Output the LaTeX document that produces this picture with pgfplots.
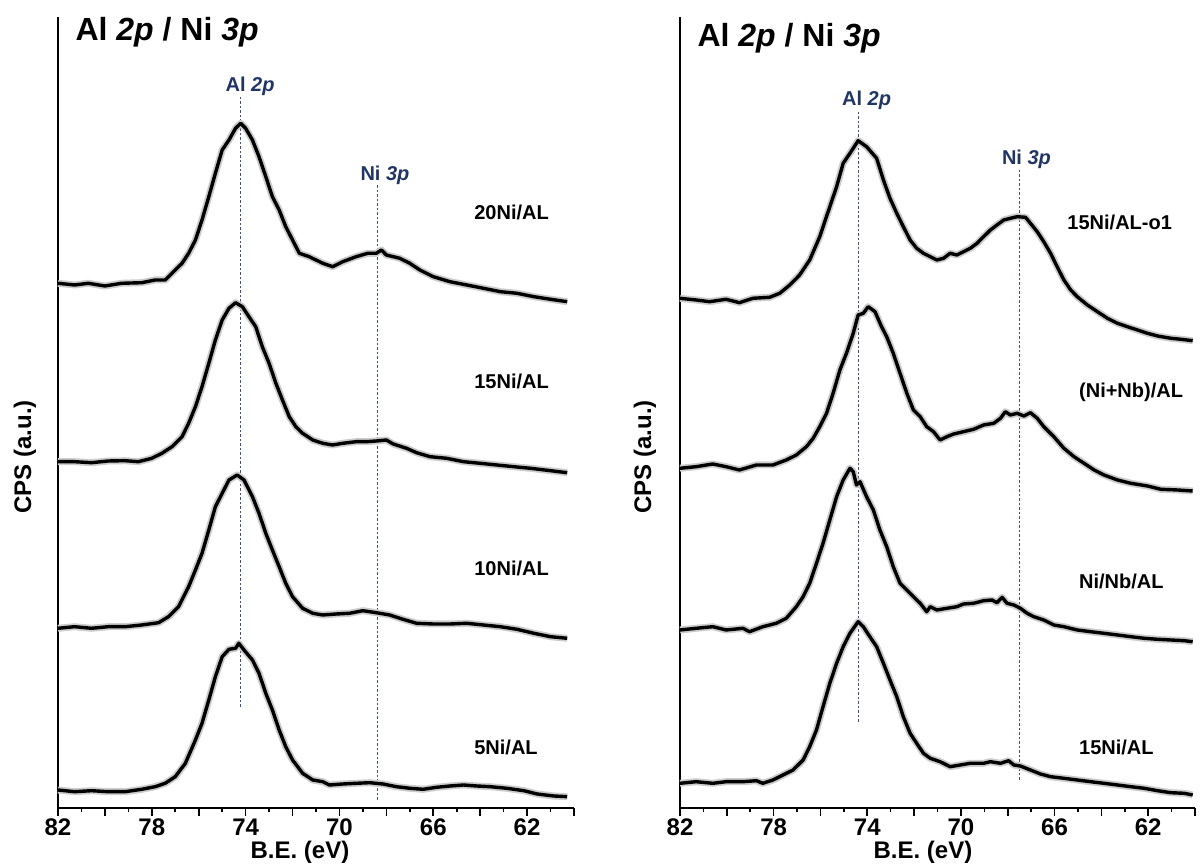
\documentclass[border=0pt]{standalone}
\usepackage{pgfplots}
\pgfplotsset{compat=1.18}
\usepackage{fontspec}
\setmainfont{Liberation Sans}
\definecolor{navy}{RGB}{32,52,102}
\definecolor{dashblue}{RGB}{60,80,140}
\tikzset{lab/.style={anchor=west, font=\fontsize{20}{24}\selectfont\bfseries}}
\pgfplotsset{
  xpspanel/.style={
    scale only axis,
    height=791pt,
    xmin=60, xmax=82, ymin=0, ymax=791,
    x dir=reverse,
    axis x line*=bottom,
    axis y line*=left,
    axis line style={line width=1.8pt, black},
    ytick=\empty,
    xtick={60,62,...,82},
    xticklabels={,\textbf{62},,\textbf{66},,\textbf{70},,\textbf{74},,\textbf{78},,\textbf{82}},
    minor xtick={61,63,...,81},
    tick align=outside,
    major tick length=8pt,
    minor tick length=4.5pt,
    tick style={line width=1.6pt, black},
    xticklabel style={font=\fontsize{24}{26}\selectfont\bfseries, inner sep=2.5pt},
    clip=false,
  },
  spec/.style={black, line width=3.4pt, line join=round, no markers,
    preaction={draw, black!20, line width=7pt, line join=round}},
  guide/.style={dashblue, line width=0.9pt, dash pattern=on 2.5pt off 2pt, no markers},
}
\begin{document}
\begin{tikzpicture}
\useasboundingbox (0,0) rectangle (1201pt,866pt);
% ---------------- left panel ----------------
\begin{axis}[xpspanel, width=516pt, at={(58pt,58pt)}, anchor=south west]
\addplot[guide] coordinates {(74.2,101) (74.2,711)};
\addplot[guide] coordinates {(68.36,8) (68.36,623)};
% 20Ni/AL
\addplot[spec] coordinates {
(82.0,524.7)(81.29,523)(80.71,524.7)(80.0,522)(79.29,524.7)(78.43,525.3)(77.86,528)(77.43,528)
(77.14,534.7)(76.71,544.7)(76.43,554.7)(76.14,568)(75.86,588)(75.57,611.3)(75.29,634.7)(75.0,658)
(74.71,668)(74.43,679.7)(74.21,684.7)(74.0,679.7)(73.71,668)(73.43,651.3)(73.14,631.3)(72.86,611.3)
(72.57,598)(72.29,581.3)(72.0,568)(71.71,554.7)(71.29,551.3)(70.71,544.7)(70.29,541.3)(69.86,546.3)
(69.29,551.3)(68.79,554.7)(68.43,554.7)(68.21,558)(68.0,553)(67.43,549.7)(67.0,544.7)(66.57,538)
(66.0,531.3)(65.29,526.3)(64.57,523)(63.86,519.7)(63.14,516.3)(62.43,514.7)(61.71,511.3)(61.0,508.7)(60.29,506.3)};
% 15Ni/AL
\addplot[spec] coordinates {
(82.0,346.3)(81.29,346.3)(80.57,345.3)(79.86,347)(79.14,347.3)(78.57,346.3)(78.0,349.7)(77.57,354.7)
(77.14,361.3)(76.71,371.3)(76.43,384.7)(76.14,401.3)(75.86,421.3)(75.57,444.7)(75.29,468)(75.0,488)
(74.71,499.7)(74.43,505.3)(74.14,501.3)(73.86,491.3)(73.57,481.3)(73.29,461.3)(73.0,444.7)(72.71,424.7)
(72.43,408)(72.14,391.3)(71.86,381.3)(71.57,374.7)(71.14,368)(70.71,364.7)(70.29,363)(69.86,364.7)
(69.29,366.3)(68.86,366.3)(68.43,367)(68.0,368)(67.71,364)(67.14,359.7)(66.71,355.3)(66.14,351.3)
(65.43,349.7)(64.71,346.3)(64.0,344.7)(63.29,343)(62.57,341.3)(61.86,339.7)(61.0,337.3)(60.29,335.3)};
% 10Ni/AL
\addplot[spec] coordinates {
(82.0,179.7)(81.29,181.3)(80.57,179.7)(79.86,181.3)(79.14,181.3)(78.43,183)(77.71,185.3)(77.29,191.3)
(76.86,201.3)(76.43,221.3)(76.14,238)(75.86,254.7)(75.57,278)(75.29,301.3)(75.0,314.7)(74.71,328)
(74.36,333)(74.07,328)(73.71,311.3)(73.43,294.7)(73.14,274.7)(72.86,258)(72.57,241.3)(72.29,224.7)
(72.0,211.3)(71.57,199.7)(71.14,194.7)(70.71,193)(70.14,194)(69.57,194.7)(69.0,197.3)(68.43,195.3)
(67.86,193)(67.29,188.7)(66.71,184.7)(66.0,184)(65.29,184)(64.57,184.7)(63.86,183)(63.14,181.3)
(62.43,178.7)(61.71,174.7)(61.0,171.3)(60.29,169.7)};
% 5Ni/AL
\addplot[spec] coordinates {
(82.0,18)(81.29,16.3)(80.57,17.3)(79.86,16.3)(79.14,16.3)(78.43,18.7)(77.86,21.3)(77.43,24.7)
(77.0,31.3)(76.57,44.7)(76.14,68)(75.86,84.7)(75.57,108)(75.29,131.3)(75.0,151.3)(74.71,158.7)
(74.43,159.7)(74.29,164.7)(74.07,158)(73.71,148)(73.43,134.7)(73.14,114.7)(72.86,98)(72.57,78)
(72.29,61.3)(72.0,48)(71.57,34.7)(71.14,28)(70.71,26.3)(70.43,23)(69.86,24)(69.29,24.7)
(68.71,25.3)(68.14,24)(67.57,21.3)(67.0,19.7)(66.43,18.7)(65.86,20.7)(65.29,22)(64.71,23)
(64.14,22)(63.57,21.3)(62.86,19.7)(62.14,17.3)(61.57,14)(60.86,12)(60.29,11.3)};
\node[navy, font=\fontsize{20}{24}\selectfont\bfseries] at (axis cs:73.81,722) {Al \textit{2p}};
\node[navy, font=\fontsize{20}{24}\selectfont\bfseries] at (axis cs:68.06,633) {Ni \textit{3p}};
\node[lab] at (axis cs:64.4,596) {20Ni/AL};
\node[lab] at (axis cs:64.4,427) {15Ni/AL};
\node[lab] at (axis cs:64.4,240) {10Ni/AL};
\node[lab] at (axis cs:64.4,61) {5Ni/AL};
\end{axis}
% ---------------- right panel ----------------
\begin{axis}[xpspanel, width=515pt, at={(680pt,58pt)}, anchor=south west]
\addplot[guide] coordinates {(74.37,86) (74.37,697)};
\addplot[guide] coordinates {(67.51,28) (67.51,640)};
% 15Ni/AL-o1
\addplot[spec] coordinates {
(82.0,509.7)(81.31,508)(80.74,506.3)(80.03,508.7)(79.46,505.3)(78.89,509.7)(78.17,510.7)(77.74,514.7)
(77.31,523)(76.89,533)(76.46,548)(76.03,571.3)(75.6,601.3)(75.31,621.3)(75.03,644.7)(74.74,654.7)
(74.39,667.3)(74.03,661.3)(73.6,649.7)(73.31,628)(73.03,609.7)(72.74,594.7)(72.46,581.3)(72.17,568)
(71.89,559.7)(71.6,554.7)(71.31,551.3)(71.03,548)(70.74,549.7)(70.46,554.7)(70.17,553)(69.89,556.3)
(69.6,559.7)(69.31,564.7)(69.03,571.3)(68.74,578)(68.46,583)(68.17,588)(67.89,589.7)(67.6,591.3)
(67.24,590.7)(67.03,584.7)(66.74,576.3)(66.46,566.3)(66.17,554.7)(65.89,541.3)(65.6,528)(65.31,518)
(65.03,511.3)(64.6,503)(64.17,496.3)(63.74,489.7)(63.31,484.7)(62.89,481.3)(62.46,478)(62.03,474.7)
(61.6,472)(61.03,469.7)(60.6,468.7)(60.1,467.3)};
% (Ni+Nb)/AL
\addplot[spec] coordinates {
(82.0,339.7)(81.31,341.3)(80.6,344)(80.03,341.3)(79.46,338)(78.74,343)(78.03,343)(77.46,348)
(77.03,353)(76.6,361.3)(76.31,369.7)(76.03,381.3)(75.74,394.7)(75.46,414.7)(75.17,438)(74.89,454.7)
(74.6,474.7)(74.39,493)(74.17,494.7)(73.96,501.3)(73.67,496.3)(73.39,481.3)(73.17,471.3)(72.89,454.7)
(72.6,434.7)(72.31,414.7)(72.03,398)(71.74,391.3)(71.46,381.3)(71.17,376.3)(70.89,368)(70.6,371.3)
(70.31,374)(69.89,376.3)(69.46,378.7)(69.03,383)(68.6,384.7)(68.31,389.7)(68.1,396.3)(67.89,393)
(67.6,394.7)(67.31,392)(67.03,395.3)(66.74,389.7)(66.46,381.3)(66.03,371.3)(65.6,359.7)(65.17,351.3)
(64.74,344.7)(64.31,338)(63.89,333)(63.31,328)(62.74,324.7)(62.03,322)(61.46,318.7)(60.74,318)(60.1,317)};
% Ni/Nb/AL
\addplot[spec] coordinates {
(82.0,178)(81.31,179.7)(80.6,181.3)(80.03,178)(79.31,179.7)(79.03,176.3)(78.46,181.3)(77.89,184.7)
(77.46,189.7)(77.03,201.3)(76.74,211.3)(76.46,224.7)(76.17,244.7)(75.89,264.7)(75.6,288)(75.31,311.3)
(75.03,328)(74.74,339.7)(74.6,336.3)(74.46,323)(74.31,326.3)(74.03,311.3)(73.74,298)(73.46,278)
(73.17,261.3)(72.89,241.3)(72.6,224.7)(72.31,218)(72.03,211.3)(71.74,204.7)(71.46,196.3)(71.31,201.3)
(71.03,198)(70.6,199.7)(70.17,201.3)(69.89,204)(69.46,204.7)(69.03,207.3)(68.67,208)(68.46,205.3)
(68.24,210.7)(68.03,204.7)(67.74,203)(67.46,199.7)(67.17,194.7)(66.89,191.3)(66.46,188)(66.03,183)
(65.6,181.3)(65.03,178)(64.46,176.3)(63.89,174.7)(63.31,173)(62.74,171.3)(62.17,169.7)(61.6,168.7)
(61.03,168)(60.46,167.3)(60.1,166.3)};
% 15Ni/AL
\addplot[spec] coordinates {
(82.0,24.7)(81.31,26.3)(80.6,24.7)(80.03,26.3)(79.31,26.3)(78.74,27.3)(78.46,24.7)(78.03,28)
(77.6,33)(77.17,38)(76.74,48)(76.46,61.3)(76.17,78)(75.89,101.3)(75.6,124.7)(75.31,144.7)
(75.03,161.3)(74.74,174.7)(74.39,186.3)(74.17,181.3)(73.89,171.3)(73.6,161.3)(73.31,144.7)(73.03,128)
(72.74,111.3)(72.46,91.3)(72.17,74.7)(71.89,64.7)(71.6,54.7)(71.31,49.7)(70.89,46.3)(70.46,41.3)
(70.03,43)(69.6,44.7)(69.03,44.7)(68.74,46.3)(68.31,44.7)(67.96,47.3)(67.74,43)(67.46,42)
(67.03,38)(66.6,34)(66.17,31.3)(65.6,29.7)(65.03,28)(64.46,26.3)(63.89,24.7)(63.31,23)
(62.74,21.3)(62.17,19.7)(61.6,17.3)(61.03,15.3)(60.46,14.7)(60.1,13)};
\node[navy, font=\fontsize{20}{24}\selectfont\bfseries] at (axis cs:74.03,708) {Al \textit{2p}};
\node[navy, font=\fontsize{20}{24}\selectfont\bfseries] at (axis cs:67.2,649) {Ni \textit{3p}};
\node[lab] at (axis cs:65.6,586) {15Ni/AL-o1};
\node[lab] at (axis cs:65.1,416) {(Ni+Nb)/AL};
\node[lab] at (axis cs:65.1,227) {Ni/Nb/AL};
\node[lab] at (axis cs:65.1,61) {15Ni/AL};
\end{axis}
% ---------------- titles and axis labels ----------------
\node[anchor=west, font=\fontsize{32}{38}\selectfont\bfseries] at (72pt,834pt) {Al \textit{2p} / Ni \textit{3p}};
\node[anchor=west, font=\fontsize{32}{38}\selectfont\bfseries] at (694pt,828pt) {Al \textit{2p} / Ni \textit{3p}};
\node[rotate=90, font=\fontsize{24}{28}\selectfont\bfseries] at (25pt,409pt) {CPS (a.u.)};
\node[rotate=90, font=\fontsize{24}{28}\selectfont\bfseries] at (645pt,409pt) {CPS (a.u.)};
\node[font=\fontsize{24}{28}\selectfont\bfseries] at (300pt,14pt) {B.E. (eV)};
\node[font=\fontsize{24}{28}\selectfont\bfseries] at (923pt,14pt) {B.E. (eV)};
\end{tikzpicture}
\end{document}
